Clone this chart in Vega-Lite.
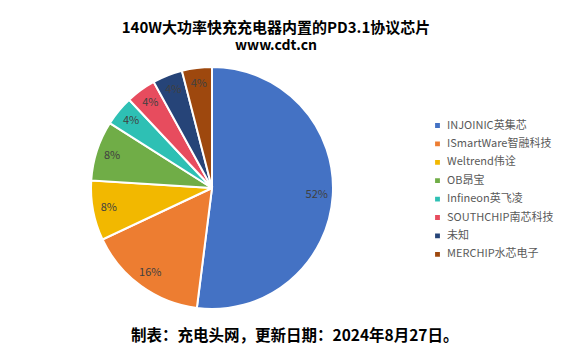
{
  "$schema": "https://vega.github.io/schema/vega-lite/v6.json",
  "background": "white",
  "padding": {"left": 0, "top": 21, "right": 0, "bottom": 0},
  "title": {"text": "制表：充电头网，更新日期：2024年8月27日。", "orient": "bottom", "anchor": "start", "dx": 131, "offset": 16, "font": "Noto Sans CJK SC", "fontSize": 15.5, "fontWeight": "bold", "color": "#000000"},
  "config": {"view": {"stroke": null}, "font": "Noto Sans CJK SC"},
  "vconcat": [
    {
      "width": 424,
      "height": 240,
      "title": {"text": "140W大功率快充充电器内置的PD3.1协议芯片", "subtitle": "www.cdt.cn", "anchor": "middle", "frame": "group", "dx": 64, "offset": 10, "font": "Noto Sans CJK SC", "fontSize": 15, "fontWeight": "bold", "color": "#000000", "subtitleFont": "Noto Sans CJK SC", "subtitleFontSize": 14, "subtitleFontWeight": "bold", "subtitleColor": "#000000", "subtitlePadding": 3},
      "data": {"values": [
        {"idx": 1, "chip": "INJOINIC英集芯", "pct": 52},
        {"idx": 2, "chip": "ISmartWare智融科技", "pct": 16},
        {"idx": 3, "chip": "Weltrend伟诠", "pct": 8},
        {"idx": 4, "chip": "OB昂宝", "pct": 8},
        {"idx": 5, "chip": "Infineon英飞凌", "pct": 4},
        {"idx": 6, "chip": "SOUTHCHIP南芯科技", "pct": 4},
        {"idx": 7, "chip": "未知", "pct": 4},
        {"idx": 8, "chip": "MERCHIP水芯电子", "pct": 4}
      ]},
      "encoding": {
        "theta": {"field": "pct", "type": "quantitative", "stack": true},
        "order": {"field": "idx", "type": "quantitative"},
        "color": {
          "field": "chip", "type": "nominal",
          "scale": {
            "domain": ["INJOINIC英集芯", "ISmartWare智融科技", "Weltrend伟诠", "OB昂宝", "Infineon英飞凌", "SOUTHCHIP南芯科技", "未知", "MERCHIP水芯电子"],
            "range": ["#4472C4", "#ED7D31", "#F2B800", "#70AD47", "#2EC0B4", "#E74C5E", "#264478", "#9E480E"]
          },
          "legend": {"title": null, "orient": "none", "legendX": 432, "legendY": 52, "symbolType": "square", "symbolSize": 40, "labelFontSize": 11, "labelColor": "#595959", "labelFont": "Noto Sans CJK SC", "rowPadding": 5.4, "labelOffset": 4}
        }
      },
      "layer": [
        {"mark": {"type": "arc", "outerRadius": 121, "stroke": "white", "strokeWidth": 2}},
        {"mark": {"type": "text", "radius": 105, "fontSize": 11, "font": "Noto Sans CJK SC"},
         "encoding": {"color": {"value": "#404040"}, "text": {"field": "label", "type": "nominal"}},
         "transform": [{"calculate": "datum.pct + '%'", "as": "label"}]}
      ]
    }
  ]
}
